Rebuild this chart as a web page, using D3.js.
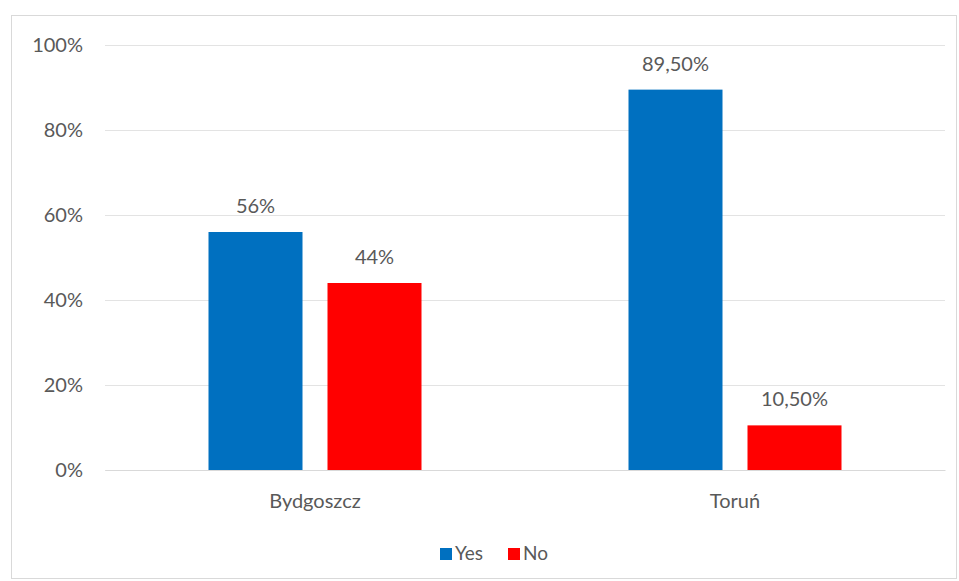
<!DOCTYPE html>
<html>
<head>
<meta charset="utf-8">
<script src="https://cdn.jsdelivr.net/npm/d3@7"></script>
<style>
body { margin: 0; background: #fff; }
svg text { font-family: Lato, "Open Sans", sans-serif; fill: #595959; }
</style>
</head>
<body>
<script>
var width = 959, height = 581;

var cities = ["Bydgoszcz", "Toruń"];
var series = ["Yes", "No"];
var yesValues = [56, 89.5];
var noValues = [44, 10.5];
var valueLabels = [["56%", "44%"], ["89,50%", "10,50%"]];
var yTicks = [0, 20, 40, 60, 80, 100];
var colors = ["#0070c0", "#ff0000"];

var svg = d3.select("body").append("svg")
    .attr("width", width)
    .attr("height", height);

// cadre du graphique
svg.append("rect")
    .attr("x", 11.5).attr("y", 15.5)
    .attr("width", 945).attr("height", 563)
    .attr("fill", "#fff")
    .attr("stroke", "#d9d9d9");

var plotLeft = 105, plotRight = 945, plotTop = 45, plotBottom = 470;

var x = d3.scaleBand().domain(cities).range([plotLeft, plotRight]);
var y = d3.scaleLinear().domain([0, 100]).range([plotBottom, plotTop]);

// grille
svg.append("g")
    .attr("transform", "translate(" + plotLeft + ",0)")
    .call(d3.axisLeft(y).tickValues(yTicks).tickSize(-(plotRight - plotLeft)).tickFormat(function(d) { return d + "%"; }))
    .call(function(g) {
        g.select(".domain").remove();
        g.selectAll(".tick line").attr("stroke", "#e3e3e3");
        g.selectAll(".tick text").attr("x", -22).attr("font-size", 20);
    });

var barW = 94, gap = 25;
var data = [];
cities.forEach(function(c, i) {
    data.push({city: c, s: 0, v: yesValues[i], label: valueLabels[i][0]});
    data.push({city: c, s: 1, v: noValues[i], label: valueLabels[i][1]});
});

function barX(d) {
    var center = x(d.city) + x.bandwidth() / 2;
    return d.s === 0 ? center - gap / 2 - barW : center + gap / 2;
}

svg.selectAll(".bar")
    .data(data)
    .enter()
    .append("rect")
    .attr("x", barX)
    .attr("y", function(d) { return y(d.v); })
    .attr("width", barW)
    .attr("height", function(d) { return plotBottom - y(d.v); })
    .attr("fill", function(d) { return colors[d.s]; });

svg.selectAll(".lbl")
    .data(data)
    .enter()
    .append("text")
    .attr("x", function(d) { return barX(d) + barW / 2; })
    .attr("y", function(d) { return y(d.v) - 19; })
    .attr("text-anchor", "middle")
    .attr("font-size", 20)
    .text(function(d) { return d.label; });

// axe des categories
svg.append("g")
    .attr("transform", "translate(0," + plotBottom + ")")
    .call(d3.axisBottom(x).tickSize(0).tickPadding(24))
    .call(function(g) {
        g.select(".domain").attr("stroke", "#d9d9d9");
        g.selectAll(".tick text").attr("font-size", 20);
    });

// legende
var legend = svg.append("g");
var lx = [440, 508];
series.forEach(function(s, i) {
    legend.append("rect")
        .attr("x", lx[i]).attr("y", 548)
        .attr("width", 12).attr("height", 12)
        .attr("fill", colors[i]);
    legend.append("text")
        .attr("x", lx[i] + 15).attr("y", 560)
        .attr("font-size", 19)
        .text(s);
});
</script>
</body>
</html>
